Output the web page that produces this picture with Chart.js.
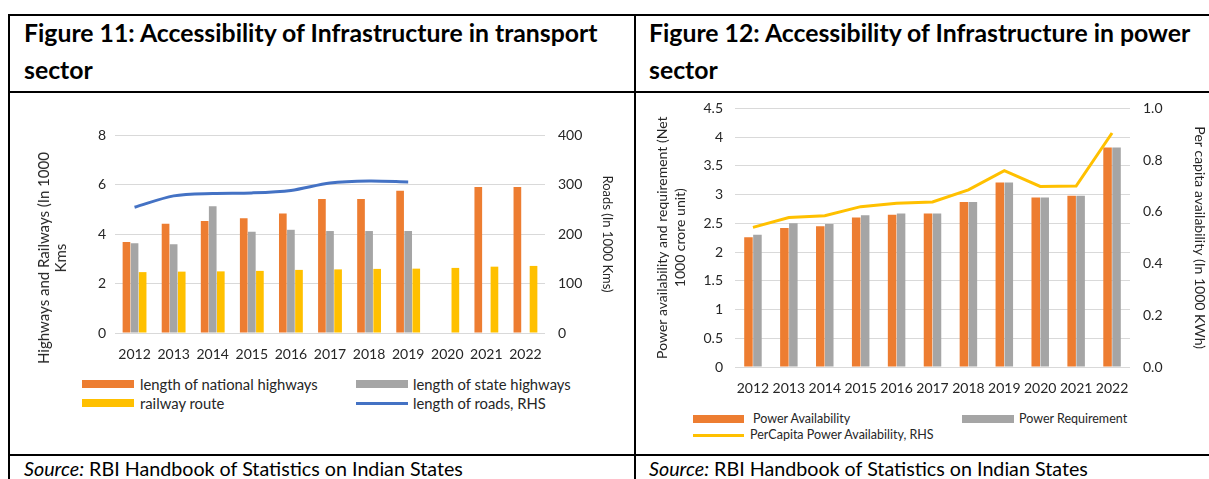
<!DOCTYPE html>
<html>
<head>
<meta charset="utf-8">
<script src="https://cdn.jsdelivr.net/npm/chart.js@4.4.1/dist/chart.umd.min.js"></script>
<style>
body { margin: 0; background: #fff; font-family: Lato, sans-serif; color: #000; }
#pagina { position: relative; width: 1209px; height: 479px; overflow: hidden; background: #fff; }
.hl { position: absolute; height: 2px; background: #000; }
.vl { position: absolute; width: 2px; background: #000; }
.titulo { position: absolute; font-weight: bold; font-size: 24.8px; line-height: 37px; white-space: nowrap; }
.fuente { position: absolute; font-size: 19.7px; white-space: nowrap; }
canvas { position: absolute; }
.ley { position: absolute; color: #262626; white-space: nowrap; }
.caja { position: absolute; }
.tituloEje { position: absolute; color: #262626; font-size: 15px; line-height: 17px; text-align: center; white-space: nowrap;
             transform: translate(-50%, -50%) rotate(-90deg); }
</style>
</head>
<body>
<div id="pagina">
  <div class="hl" style="left:8px; top:14px; width:1210px;"></div>
  <div class="hl" style="left:8px; top:91px; width:1210px;"></div>
  <div class="hl" style="left:8px; top:454px; width:1210px;"></div>
  <div class="vl" style="left:8px; top:14px; height:470px;"></div>
  <div class="vl" style="left:634px; top:14px; height:470px;"></div>

  <div class="titulo" style="left:24px; top:14px;">Figure 11: Accessibility of Infrastructure in transport<br>sector</div>
  <div class="titulo" style="left:649px; top:14px;">Figure 12: Accessibility of Infrastructure in power<br>sector</div>

  <canvas id="graficoTransporte" width="624" height="272" style="left:10px; top:93px;"></canvas>
  <canvas id="graficoEnergia" width="573" height="313" style="left:636px; top:87px;"></canvas>

  <div class="tituloEje" style="left:52px; top:258px;">Highways and Railways (In 1000<br>Kms</div>

  <!-- leyenda transporte -->
  <div class="caja" style="left:82px; top:380px; width:52px; height:8px; background:#ED7D31;"></div>
  <div class="ley" style="left:140px; top:375px; font-size:14.8px;">length of national highways</div>
  <div class="caja" style="left:356px; top:380px; width:52px; height:8px; background:#A5A5A5;"></div>
  <div class="ley" style="left:413px; top:375px; font-size:14.8px;">length of state highways</div>
  <div class="caja" style="left:82px; top:399px; width:52px; height:8px; background:#FFC000;"></div>
  <div class="ley" style="left:140px; top:394px; font-size:14.8px;">railway route</div>
  <div class="caja" style="left:356px; top:402px; width:52px; height:3px; background:#4472C4;"></div>
  <div class="ley" style="left:413px; top:394px; font-size:14.8px;">length of roads, RHS</div>

  <!-- leyenda energia -->
  <div class="caja" style="left:693px; top:415px; width:51px; height:8px; background:#ED7D31;"></div>
  <div class="ley" style="left:753px; top:411px; font-size:12.5px;">Power Availability</div>
  <div class="caja" style="left:962px; top:415px; width:52px; height:8px; background:#A5A5A5;"></div>
  <div class="ley" style="left:1019px; top:411px; font-size:12.5px;">Power Requirement</div>
  <div class="caja" style="left:693px; top:434px; width:51px; height:3px; background:#FFC000;"></div>
  <div class="ley" style="left:750px; top:427px; font-size:12.5px;">PerCapita Power Availability, RHS</div>

  <div class="fuente" style="left:24px; top:457px;"><i>Source:</i> RBI Handbook of Statistics on Indian States</div>
  <div class="fuente" style="left:649px; top:457px;"><i>Source:</i> RBI Handbook of Statistics on Indian States</div>
</div>

<script>
const anios = ['2012', '2013', '2014', '2015', '2016', '2017', '2018', '2019', '2020', '2021', '2022'];

// Figura 11 (miles de km)
const carreterasNacionales = [3.68, 4.41, 4.53, 4.64, 4.83, 5.41, 5.41, 5.75, null, 5.90, 5.90];
const carreterasEstatales = [3.63, 3.59, 5.12, 4.09, 4.17, 4.12, 4.12, 4.12, null, null, null];
const rutaFerroviaria = [2.46, 2.48, 2.49, 2.51, 2.55, 2.57, 2.59, 2.60, 2.63, 2.68, 2.71];
const longitudCaminos = [254, 277, 282, 283, 288, 303, 307, 305, null, null, null];

// Figura 12
const disponibilidadEnergia = [2.26, 2.42, 2.45, 2.60, 2.65, 2.67, 2.87, 3.21, 2.95, 2.98, 3.82];
const requerimientoEnergia = [2.30, 2.50, 2.49, 2.64, 2.67, 2.67, 2.87, 3.21, 2.95, 2.98, 3.82];
const energiaPerCapita = [0.540, 0.578, 0.585, 0.620, 0.633, 0.638, 0.685, 0.759, 0.698, 0.700, 0.905];

Chart.defaults.font.family = 'Lato, sans-serif';
Chart.defaults.color = '#262626';
Chart.defaults.animation = false;

function anchoFijo(px) {
    return function (escala) { escala.width = px; };
}
function altoFijo(px) {
    return function (escala) { escala.height = px; };
}

new Chart(document.getElementById('graficoTransporte'), {
    type: 'bar',
    data: {
        labels: anios,
        datasets: [
            { label: 'length of national highways', data: carreterasNacionales, backgroundColor: '#ED7D31', order: 1 },
            { label: 'length of state highways', data: carreterasEstatales, backgroundColor: '#A5A5A5', order: 1 },
            { label: 'railway route', data: rutaFerroviaria, backgroundColor: '#FFC000', order: 1 },
            {
                type: 'line', label: 'length of roads, RHS', data: longitudCaminos, yAxisID: 'y1',
                borderColor: '#4472C4', borderWidth: 3, pointRadius: 0, tension: 0.3, order: 0
            }
        ]
    },
    options: {
        responsive: false,
        datasets: { bar: { categoryPercentage: 0.62, barPercentage: 0.95 } },
        layout: { padding: { top: 42 } },
        plugins: { legend: { display: false }, tooltip: { enabled: false } },
        scales: {
            x: {
                grid: { display: false, drawTicks: false },
                border: { display: false },
                ticks: { padding: 13, font: { size: 14 }, maxRotation: 0 },
                afterFit: altoFijo(32)
            },
            y: {
                min: 0, max: 8,
                ticks: { stepSize: 2, padding: 9, font: { size: 14 } },
                grid: { color: '#d9d9d9', drawTicks: false },
                border: { display: false },
                afterFit: anchoFijo(105)
            },
            y1: {
                position: 'right',
                min: 0, max: 400,
                ticks: { stepSize: 100, padding: 13, font: { size: 14 } },
                grid: { display: false, drawTicks: false },
                border: { display: false },
                title: { display: true, text: 'Roads (In 1000 Kms)', font: { size: 13, lineHeight: 1.3 }, padding: { top: 18 } },
                afterFit: anchoFijo(89)
            }
        }
    }
});

new Chart(document.getElementById('graficoEnergia'), {
    type: 'bar',
    data: {
        labels: anios,
        datasets: [
            { label: 'Power Availability', data: disponibilidadEnergia, backgroundColor: '#ED7D31', order: 1 },
            { label: 'Power Requirement', data: requerimientoEnergia, backgroundColor: '#A5A5A5', order: 1 },
            {
                type: 'line', label: 'PerCapita Power Availability, RHS', data: energiaPerCapita, yAxisID: 'y1',
                borderColor: '#FFC000', borderWidth: 3, pointRadius: 0, tension: 0, order: 0
            }
        ]
    },
    options: {
        responsive: false,
        datasets: { bar: { categoryPercentage: 0.5, barPercentage: 0.95 } },
        layout: { padding: { top: 0 } },
        plugins: { legend: { display: false }, tooltip: { enabled: false } },
        scales: {
            x: {
                grid: { display: false, drawTicks: false },
                border: { display: false },
                ticks: { padding: 13, font: { size: 14 }, maxRotation: 0, autoSkip: false },
                afterFit: altoFijo(33)
            },
            y: {
                min: 0, max: 4.5,
                ticks: { stepSize: 0.5, padding: 12, font: { size: 14 }, callback: v => String(v) },
                grid: { color: '#d9d9d9', drawTicks: false },
                border: { display: false },
                title: { display: true, text: ['Power availability and requirement (Net', '1000 crore unit)'], font: { size: 14, lineHeight: 1.3 }, padding: { top: 17 } },
                afterFit: anchoFijo(99)
            },
            y1: {
                position: 'right',
                min: 0, max: 1,
                ticks: { stepSize: 0.2, padding: 13, font: { size: 14 }, callback: v => v.toFixed(1) },
                grid: { display: false, drawTicks: false },
                border: { display: false },
                title: { display: true, text: 'Per capita availability (In 1000 KWh)', font: { size: 14, lineHeight: 1.3 }, padding: { top: 0 } },
                afterFit: anchoFijo(79)
            }
        }
    }
});
</script>
</body>
</html>
